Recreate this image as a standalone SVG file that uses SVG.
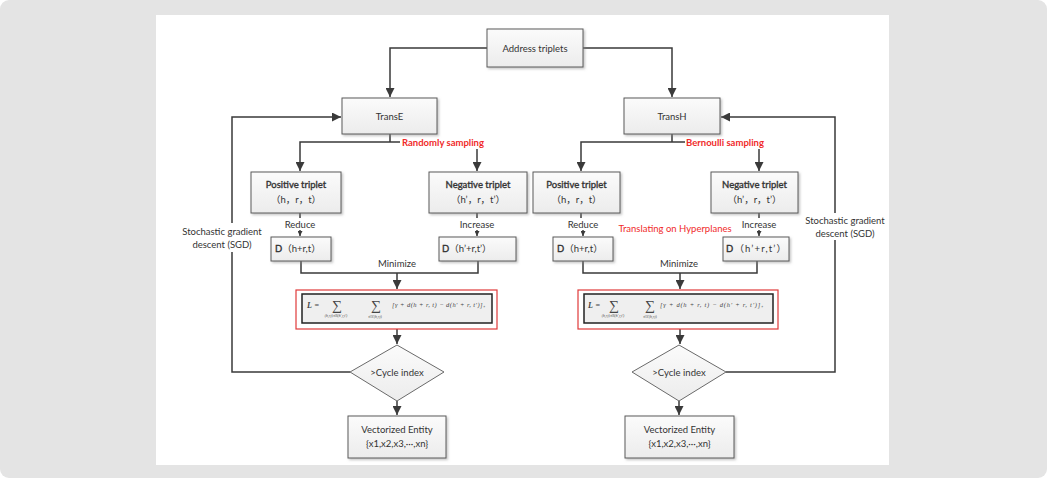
<svg xmlns="http://www.w3.org/2000/svg" width="1047" height="478" viewBox="0 0 1047 478">
<defs>
<linearGradient id="gbox" x1="0" y1="0" x2="0" y2="1">
<stop offset="0" stop-color="#fbfbfb"/><stop offset="1" stop-color="#ececec"/>
</linearGradient>
<filter id="sh" x="-10%" y="-10%" width="130%" height="140%">
<feDropShadow dx="1.5" dy="1.5" stdDeviation="1" flood-color="#888" flood-opacity="0.5"/>
</filter>
<marker id="ar" viewBox="0 0 10 10" refX="10" refY="5" markerWidth="9" markerHeight="9" markerUnits="userSpaceOnUse" orient="auto">
<path d="M0,0 L10,5 L0,10 z" fill="#3a3a3a"/>
</marker>
<marker id="ars" viewBox="0 0 10 10" refX="10" refY="5" markerWidth="5" markerHeight="5" markerUnits="userSpaceOnUse" orient="auto">
<path d="M0,0 L10,5 L0,10 z" fill="#3a3a3a"/>
</marker>
<style>
.box{fill:url(#gbox);stroke:#5a5a5a;stroke-width:1;filter:url(#sh)}
.t{font-family:Lato,"Noto Sans CJK SC",sans-serif;font-size:9.5px;fill:#333;text-anchor:middle}
.tb{fill:#333;stroke:#333;stroke-width:0.35}
.lbl{font-family:Lato,"Noto Sans CJK SC",sans-serif;font-size:9.5px;fill:#333;text-anchor:middle}
.red{fill:#f02a2a}
.rb{font-weight:bold}
.ln{fill:none;stroke:#3a3a3a;stroke-width:1.5}
.fr{fill:none;stroke:#e03a3a;stroke-width:1.2}
.fi{fill:#efefef;stroke:#222;stroke-width:1.5}
.f{font-family:"Liberation Serif",serif;fill:#444;font-style:italic}
</style>
</defs>
<rect x="0" y="0" width="1047" height="478" rx="9" fill="#e4e4e4"/>
<rect x="156" y="15" width="733" height="450" fill="#ffffff"/>

<g id="connectors">
<path class="ln" d="M487,48 H390 V97" marker-end="url(#ar)"/>
<path class="ln" d="M583,48 H672 V97" marker-end="url(#ar)"/>
<path class="ln" d="M350,372 H232 V252"/>
<path class="ln" d="M232,223 V117 H341" marker-end="url(#ar)"/>
<path class="ln" d="M726,372 H835 V240"/>
<path class="ln" d="M835,213 V117 H721" marker-end="url(#ar)"/>
<path class="ln" d="M390,134 V142 M400,142 H300 V171" marker-end="url(#ar)"/>
<path class="ln" d="M477,149 V171" marker-end="url(#ar)"/>
<path class="ln" d="M672,134 V142 M685,142 H581 V171" marker-end="url(#ar)"/>
<path class="ln" d="M759,149 V171" marker-end="url(#ar)"/>
<path class="ln" d="M300,213 V218"/>
<path class="ln" d="M300,230 V236" marker-end="url(#ars)"/>
<path class="ln" d="M477,213 V218"/>
<path class="ln" d="M477,230 V236" marker-end="url(#ars)"/>
<path class="ln" d="M581,213 V218"/>
<path class="ln" d="M583,230 V236" marker-end="url(#ars)"/>
<path class="ln" d="M759,213 V218"/>
<path class="ln" d="M759,230 V236" marker-end="url(#ars)"/>
<path class="ln" d="M301,261 V273 H478 V261 M397,273 V289" marker-end="url(#ar)"/>
<path class="ln" d="M583,261 V273 H757 V261 M680,273 V289" marker-end="url(#ar)"/>
<path class="ln" d="M397,329 V344" marker-end="url(#ar)"/>
<path class="ln" d="M680,329 V344" marker-end="url(#ar)"/>
<path class="ln" d="M397,401 V415" marker-end="url(#ar)"/>
<path class="ln" d="M679,401 V415" marker-end="url(#ar)"/>
</g>

<g id="labels">
<text class="lbl rb red" x="402" y="145.5" style="text-anchor:start">Randomly sampling</text>
<text class="lbl rb red" x="686" y="145.5" style="text-anchor:start">Bernoulli sampling</text>
<text class="lbl" x="300" y="228">Reduce</text>
<text class="lbl" x="477" y="228">Increase</text>
<text class="lbl" x="583" y="228">Reduce</text>
<text class="lbl" x="759" y="228">Increase</text>
<text class="lbl red" x="675" y="232">Translating on Hyperplanes</text>
<text class="lbl" x="397" y="267">Minimize</text>
<text class="lbl" x="679" y="267">Minimize</text>
<text class="lbl" x="222" y="235">Stochastic gradient</text>
<text class="lbl" x="222" y="247.5">descent (SGD)</text>
<text class="lbl" x="845" y="224">Stochastic gradient</text>
<text class="lbl" x="845" y="236.5">descent (SGD)</text>
</g>

<g id="address">
<rect class="box" x="487" y="29" width="96" height="38"/>
<text class="t" x="535" y="51.5">Address triplets</text>
</g>
<g id="transE">
<rect class="box" x="342" y="98" width="95" height="36"/>
<text class="t" x="389.5" y="119.5">TransE</text>
</g>
<g id="transH">
<rect class="box" x="624" y="98" width="96" height="36"/>
<text class="t" x="672" y="119.5">TransH</text>
</g>
<g id="posE">
<rect class="box" x="251" y="172" width="90" height="41"/>
<text class="t tb" x="296" y="188">Positive triplet</text>
<text class="t" x="296" y="203">（h，r，t）</text>
</g>
<g id="negE">
<rect class="box" x="429" y="172" width="98" height="41"/>
<text class="t tb" x="478" y="188">Negative triplet</text>
<text class="t" x="478" y="203">（h’，r，t’）</text>
</g>
<g id="posH">
<rect class="box" x="533" y="172" width="87" height="41"/>
<text class="t tb" x="576.5" y="188">Positive triplet</text>
<text class="t" x="576.5" y="203">（h，r，t）</text>
</g>
<g id="negH">
<rect class="box" x="711" y="172" width="87" height="41"/>
<text class="t tb" x="754.5" y="188">Negative triplet</text>
<text class="t" x="754.5" y="203">（h’，r，t’）</text>
</g>
<g id="dE1">
<rect class="box" x="271" y="237" width="60" height="24"/>
<text class="t" x="275" y="252" style="text-anchor:start"><tspan class="tb">D</tspan>（h+r,t）</text>
</g>
<g id="dE2">
<rect class="box" x="439" y="237" width="77" height="24"/>
<text class="t" x="442" y="252" style="text-anchor:start"><tspan class="tb">D</tspan>（h’+r,t’）</text>
</g>
<g id="dH1">
<rect class="box" x="553" y="237" width="60" height="24"/>
<text class="t" x="557" y="252" style="text-anchor:start"><tspan class="tb">D</tspan>（h+r,t）</text>
</g>
<g id="dH2">
<rect class="box" x="723" y="237" width="66" height="24"/>
<text class="t" x="726" y="252" style="text-anchor:start" textLength="60"><tspan class="tb">D</tspan>（h’+r,t’）</text>
</g>

<g id="formulaE">
<rect class="fr" x="296" y="290" width="201" height="39"/>
<rect class="fi" x="302" y="294" width="190" height="29"/>
<text class="f" x="307" y="308" font-size="8" font-weight="bold">L</text>
<text class="f" x="314" y="308" font-size="8" font-style="normal">=</text>
<text class="f" x="337" y="310" font-size="14" text-anchor="middle" font-style="normal">∑</text>
<text class="f" x="336" y="317" font-size="3.6" text-anchor="middle">(h,r,t)∈S(h′,r,t′)</text>
<text class="f" x="376" y="310" font-size="14" text-anchor="middle" font-style="normal">∑</text>
<text class="f" x="375" y="318" font-size="3.6" text-anchor="middle">∈S′(h,r,t)</text>
<text class="f" x="392" y="307" font-size="6.5" textLength="93">[γ + d(h + r, t) − d(h′ + r, t′)]₊</text>
</g>
<g id="formulaH">
<rect class="fr" x="578" y="290" width="200" height="39"/>
<rect class="fi" x="584" y="294" width="189" height="29"/>
<text class="f" x="588" y="308" font-size="8" font-weight="bold">L</text>
<text class="f" x="595" y="308" font-size="8" font-style="normal">=</text>
<text class="f" x="614" y="310" font-size="14" text-anchor="middle" font-style="normal">∑</text>
<text class="f" x="613" y="317" font-size="3.6" text-anchor="middle">(h,r,t)∈S(h′,r,t′)</text>
<text class="f" x="650" y="310" font-size="14" text-anchor="middle" font-style="normal">∑</text>
<text class="f" x="650" y="318" font-size="3.6" text-anchor="middle">∈S′(h,r,t)</text>
<text class="f" x="660" y="307" font-size="6.5" textLength="103">[γ + d(h + r, t) − d(h′ + r, t′)]₊</text>
</g>

<g id="cycleE">
<polygon points="397,345 444,372 397,401 350,372" fill="url(#gbox)" stroke="#6a6a6a" stroke-width="1"/>
<text class="t" x="397" y="375.5">&gt;Cycle index</text>
</g>
<g id="cycleH">
<polygon points="679,345 726,372 679,401 632,372" fill="url(#gbox)" stroke="#6a6a6a" stroke-width="1"/>
<text class="t" x="679" y="375.5">&gt;Cycle index</text>
</g>
<g id="vecE">
<rect class="box" x="348" y="416" width="98" height="42"/>
<text class="t" x="397" y="433">Vectorized Entity</text>
<text class="t" x="397" y="447">{x1,x2,x3,···,xn}</text>
</g>
<g id="vecH">
<rect class="box" x="625" y="416" width="109" height="42"/>
<text class="t" x="679.5" y="433">Vectorized Entity</text>
<text class="t" x="679.5" y="447">{x1,x2,x3,···,xn}</text>
</g>
</svg>
